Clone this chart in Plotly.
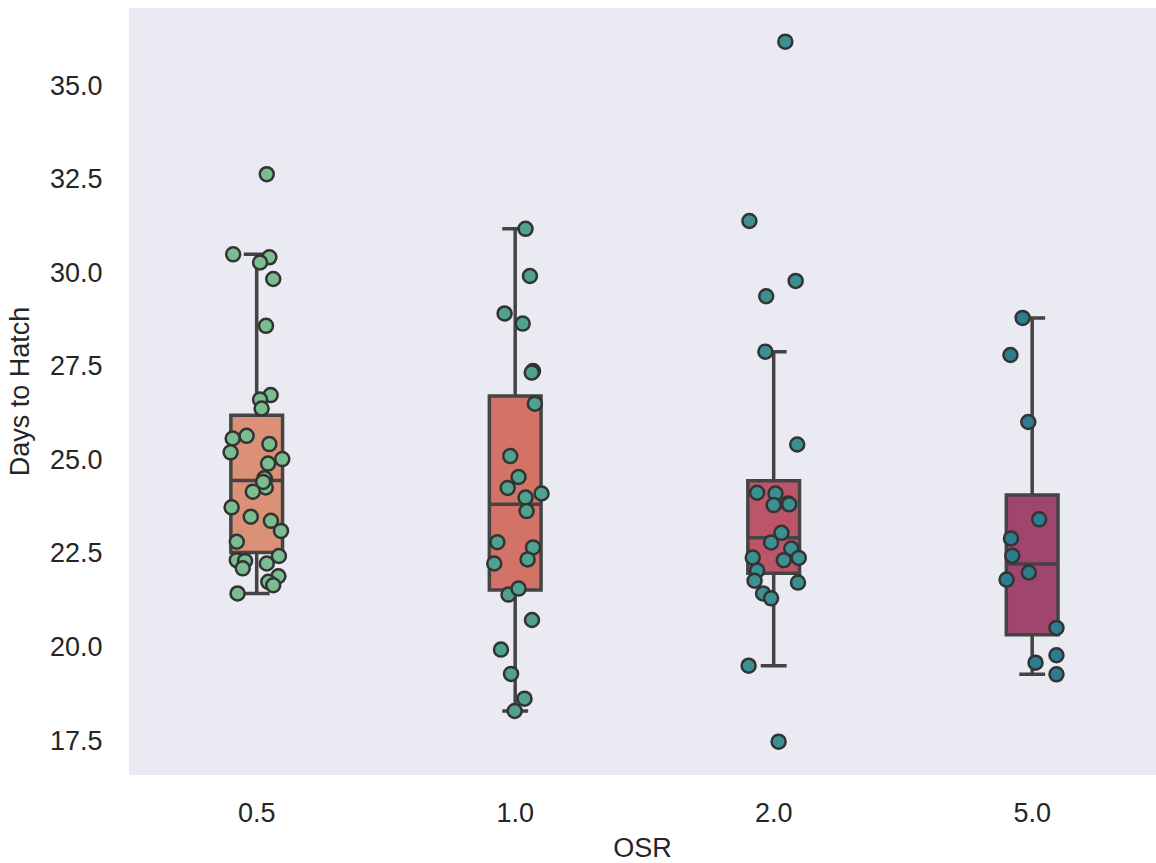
import numpy as np
import plotly.graph_objects as go

# ---- data ----
categories = ["0.5", "1.0", "2.0", "5.0"]

days_05 = [32.62, 30.48, 30.40, 30.26, 29.82, 28.57, 26.72, 26.60, 26.36, 25.63,
           25.56, 25.41, 25.19, 25.01, 24.89, 24.47, 24.25, 24.14, 23.72, 23.47,
           23.36, 23.09, 22.80, 22.31, 22.29, 22.09, 22.22, 22.42, 21.88, 21.73,
           21.64, 21.42, 24.50, 24.40]
days_10 = [31.16, 29.90, 28.90, 28.63, 27.36, 27.32, 26.49, 25.09, 24.53, 24.24,
           24.09, 23.98, 23.62, 22.79, 22.65, 22.22, 22.33, 21.39, 21.55, 20.71,
           19.92, 19.27, 18.61, 18.28]
days_20 = [36.16, 31.37, 29.77, 29.36, 27.88, 25.40, 24.11, 24.09, 23.78, 23.82,
           23.80, 23.04, 22.78, 22.62, 22.38, 22.31, 22.37, 22.03, 21.76, 21.71,
           21.42, 21.29, 19.49, 17.46]
days_50 = [28.78, 27.79, 26.00, 23.40, 22.89, 22.43, 21.98, 21.79, 20.50, 19.57,
           19.77, 19.26]

# strip-plot jitter (category units), one per point
jitter_05 = [0.039, -0.091, 0.049, 0.013, 0.064, 0.036, 0.054, 0.013, 0.019, -0.039,
             -0.093, 0.049, -0.101, 0.099, 0.044, 0.032, 0.035, -0.015, -0.097, -0.023,
             0.055, 0.094, -0.077, -0.077, -0.045, -0.054, 0.039, 0.086, 0.084, 0.045,
             0.064, -0.074, 0.030, 0.025]
jitter_10 = [0.040, 0.057, -0.041, 0.029, 0.069, 0.064, 0.076, -0.019, 0.013, -0.029,
             0.102, 0.040, 0.044, -0.069, 0.069, -0.081, 0.048, -0.026, 0.013, 0.065,
             -0.055, -0.016, 0.036, -0.002]
jitter_20 = [0.045, -0.094, 0.085, -0.029, -0.032, 0.091, -0.064, 0.007, 0.000, 0.056,
             0.060, 0.030, -0.010, 0.068, -0.081, 0.039, 0.097, -0.064, -0.074, 0.094,
             -0.041, -0.010, -0.097, 0.019]
jitter_50 = [-0.037, -0.084, -0.015, 0.027, -0.082, -0.077, -0.013, -0.099, 0.094, 0.013,
             0.094, 0.094]

y_ticks = [17.5, 20.0, 22.5, 25.0, 27.5, 30.0, 32.5, 35.0]

# ---- styles ----
box_colors = ["#da9177", "#d37368", "#bd5569", "#a0466e"]
dot_colors = ["#79bd90", "#4fa28d", "#3b9191", "#2b7d8f"]
edge = "#444444"
font_family = "Liberation Sans, Arial, sans-serif"
text_color = "#262626"

groups = [days_05, days_10, days_20, days_50]
jitters = [jitter_05, jitter_10, jitter_20, jitter_50]


def box_stats(vals):
    a = np.asarray(vals, dtype=float)
    q1, med, q3 = np.percentile(a, [25, 50, 75])
    iqr = q3 - q1
    lo = a[a >= q1 - 1.5 * iqr].min()
    hi = a[a <= q3 + 1.5 * iqr].max()
    return q1, med, q3, lo, hi


fig = go.Figure()

for i, vals in enumerate(groups):
    q1, med, q3, lo, hi = box_stats(vals)
    fig.add_trace(go.Box(
        x=[i], q1=[q1], median=[med], q3=[q3], lowerfence=[lo], upperfence=[hi],
        width=0.2,
        fillcolor=box_colors[i],
        line=dict(color=edge, width=3.5),
        whiskerwidth=0.5,
        boxpoints=False,
        showlegend=False, name=categories[i],
    ))

for i, vals in enumerate(groups):
    fig.add_trace(go.Scatter(
        x=[i + j for j in jitters[i]], y=vals, mode="markers",
        marker=dict(size=14, color=dot_colors[i],
                    line=dict(color="#333333", width=2.5)),
        showlegend=False, name=categories[i],
    ))

fig.update_layout(
    width=1156, height=863,
    margin=dict(l=129, r=0, t=8, b=88),
    paper_bgcolor="white", plot_bgcolor="#eaeaf2",
    font=dict(family=font_family, size=27, color=text_color),
)
fig.update_xaxes(
    tickmode="array", tickvals=[0, 1, 2, 3], ticktext=categories,
    range=[-0.494, 3.479], showgrid=False, zeroline=False, showline=False,
    ticks="outside", ticklen=14, tickcolor="rgba(0,0,0,0)",
    tickfont=dict(size=27, color=text_color),
    title=dict(text="OSR", font=dict(size=27, color=text_color), standoff=12),
)
fig.update_yaxes(
    tickmode="array", tickvals=y_ticks, ticktext=[f"{v:.1f}" for v in y_ticks],
    range=[16.57, 37.06], showgrid=False, zeroline=False, showline=False,
    ticks="outside", ticklen=20, tickcolor="rgba(0,0,0,0)",
    tickfont=dict(size=27, color=text_color),
    title=dict(text="Days to Hatch", font=dict(size=27, color=text_color), standoff=12),
)

fig.write_html("out.html")
